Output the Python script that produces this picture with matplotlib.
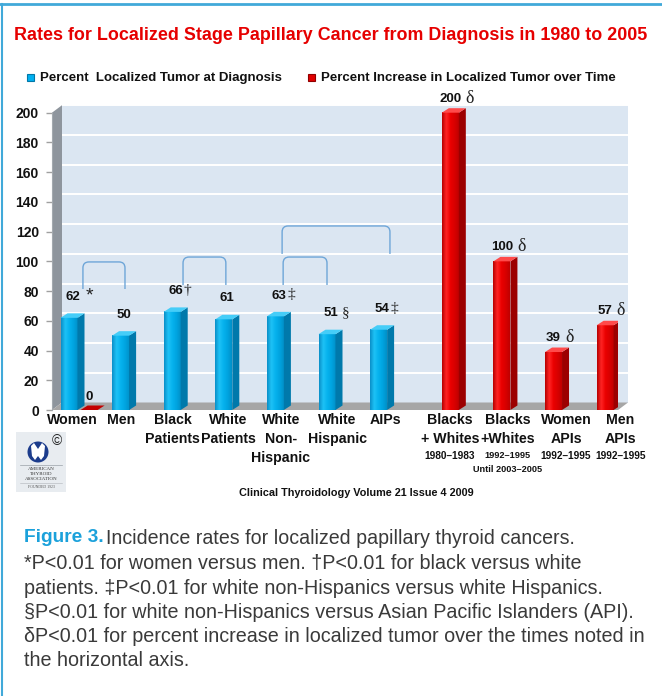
import numpy as np
import matplotlib
matplotlib.use("Agg")
import matplotlib.pyplot as plt
from matplotlib.patches import Polygon, Rectangle, PathPatch, Circle
from matplotlib.path import Path
from matplotlib.lines import Line2D
from matplotlib.colors import LinearSegmentedColormap
from matplotlib import font_manager as fm

# ---------------- data ----------------
title = "Rates for Localized Stage Papillary Cancer from Diagnosis in 1980 to 2005"
series_names = ["Percent  Localized Tumor at Diagnosis",
                "Percent Increase in Localized Tumor over Time"]
blue_categories = ["Women", "Men", "Black\nPatients", "White\nPatients",
                   "White\nNon-\nHispanic", "White\nHispanic", "AIPs"]
blue_values = [62, 50, 66, 61, 63, 51, 54]
blue_marks = ["*", "", "†", "", "‡", "§", "‡"]
women_red_value = [0]
red_categories = ["Blacks\n+ Whites", "Blacks\n+Whites", "Women\nAPIs", "Men\nAPIs"]
red_periods = ["1980–1983", "1992–1995", "1992–1995", "1992–1995"]
red_period_notes = ["", "Until 2003–2005", "", ""]
red_values = [200, 100, 39, 57]
red_marks = ["δ", "δ", "δ", "δ"]
yticks = [0, 20, 40, 60, 80, 100, 120, 140, 160, 180, 200]
comparisons = [(0, 1), (2, 3), (4, 5), (4, 6)]
footer = "Clinical Thyroidology Volume 21 Issue 4 2009"
caption_head = "Figure 3."
caption_first = "Incidence rates for localized papillary thyroid cancers."
caption_lines = [
    "*P<0.01 for women versus men. \u2020P<0.01 for black versus white",
    "patients. \u2021P<0.01 for white non-Hispanics versus white Hispanics.",
    "\u00a7P<0.01 for white non-Hispanics versus Asian Pacific Islanders (API).",
    "\u03b4P<0.01 for percent increase in localized tumor over the times noted in",
    "the horizontal axis.",
]

# ---------------- fonts ----------------
def pick(*names):
    for n in names:
        try:
            fm.findfont(fm.FontProperties(family=n), fallback_to_default=False)
            return n
        except Exception:
            pass
    return "DejaVu Sans"

NARROW = pick("Liberation Sans Narrow", "Liberation Sans")
SANS = pick("Liberation Sans", "DejaVu Sans")
SERIF = pick("Liberation Serif", "DejaVu Serif")

# ---------------- layout ----------------
W, H = 662, 696
fig = plt.figure(figsize=(W / 100, H / 100), dpi=100)
fig.patch.set_facecolor("white")

def fx(px):
    return px / W

def fy(py):
    return 1 - py / H

AX_L, AX_R, AX_T, AX_B = 52, 618, 105, 410
PXX, X0PX, PXY = 51.6, 69.0, 1.4865
ux, uy = 1 / PXX, 1 / PXY
xlim = ((AX_L - X0PX) / PXX, (AX_R - X0PX) / PXX)
ylim = (0, (AX_B - AX_T) / PXY)
WALL_DX, WALL_DY = 10 * ux, 7.5 * uy
BAR_DX, BAR_DY = 7 * ux, 4.5 * uy
BAR_W = 17 * ux
RED_SHIFT = 0.39
LABEL_SHIFT_PX = [3, 0.5, 0.5, 4.5, 5.5, 10.5, 6.5, -0.5, 5.5, 12.5, 15.5]
BRACKETS = [  # (left offset, right offset, bottom, top)
    (0.27, 0.085, 81.4, 99.6),
    (0.21, 0.04, 84.1, 102.9),
    (0.15, 0.0, 84.1, 102.9),
    (0.13, 0.22, 105.0, 123.8),
]
BRACKET_COLOR = "#6ea6d8"

# figure frame
fig.add_artist(Line2D([0, 1], [fy(4), fy(4)], color="#41a9d9", lw=2))
fig.add_artist(Line2D([fx(2), fx(2)], [fy(4), 0], color="#41a9d9", lw=1.5))

# title
fig.text(fx(331), fy(35), title, ha="center", va="center", color="#e60000",
         fontsize=12.9, fontweight="bold", family=NARROW)

# legend
for (sx, tx, col, edge, name) in [(27, 40, "#00b0f0", "#0078a8", series_names[0]),
                                   (308, 321, "#e00000", "#900000", series_names[1])]:
    fig.add_artist(Rectangle((fx(sx), fy(81)), 7 / W, 7 / H, facecolor=col,
                             edgecolor=edge, lw=0.8))
    fig.text(fx(tx), fy(78), name, ha="left", va="center", fontsize=9.5,
             fontweight="bold", family=NARROW, color="#111111")

# axes
ax = fig.add_axes([fx(AX_L), fy(AX_B), (AX_R - AX_L) / W, (AX_B - AX_T) / H])
ax.set_facecolor("none")
for s in ["top", "right", "bottom"]:
    ax.spines[s].set_visible(False)
ax.spines["left"].set_color("#a3a9af")
ax.spines["left"].set_bounds(0, 200)
ax.set_yticks(yticks)
ax.set_yticklabels([str(v) for v in yticks], fontweight="bold", fontsize=10,
                   family=SANS, color="#111111")
ax.tick_params(axis="y", length=4, width=1, color="#a0a0a0", pad=5.5)
ax.set_xticks([])

x0, x1 = xlim
# back wall
ax.add_patch(Polygon([(x0 + WALL_DX, WALL_DY), (x1 + WALL_DX, WALL_DY),
                      (x1 + WALL_DX, 200 + WALL_DY), (x0 + WALL_DX, 200 + WALL_DY)],
                     closed=True, facecolor="#dbe6f2", edgecolor="none",
                     zorder=0.2, clip_on=False))
for v in yticks[1:]:
    ax.plot([x0 + WALL_DX, x1 + WALL_DX], [v + WALL_DY, v + WALL_DY], color="white",
            lw=1.4, zorder=0.3, clip_on=False)
# left wall
ax.add_patch(Polygon([(x0, 0), (x0, 200), (x0 + WALL_DX, 200 + WALL_DY),
                      (x0 + WALL_DX, WALL_DY)], closed=True, facecolor="#8e959d",
                     edgecolor="none", zorder=0.4, clip_on=False))
# floor
ax.add_patch(Polygon([(x0, 0), (x1, 0), (x1 + WALL_DX, WALL_DY), (x0 + WALL_DX, WALL_DY)],
                     closed=True, facecolor="#a6a6a6", edgecolor="none",
                     zorder=0.5, clip_on=False))

# bars
blue_pos = np.arange(len(blue_values))
red_pos = np.arange(len(blue_values), len(blue_values) + len(red_values)) + RED_SHIFT
bars_blue = ax.bar(blue_pos, blue_values, width=BAR_W, color="#00b0f0", lw=0, zorder=3)
bars_zero = ax.bar(blue_pos[:1] + RED_SHIFT, women_red_value, width=BAR_W,
                   color="#e00000", lw=0, zorder=3)
bars_red = ax.bar(red_pos, red_values, width=BAR_W, color="#e00000", lw=0, zorder=3)

blue_cmap = LinearSegmentedColormap.from_list(
    "bl", ["#0a8fc8", "#1ec2f6", "#06b2ee", "#00a4e0", "#0090c8"])
red_cmap = LinearSegmentedColormap.from_list(
    "rd", ["#b80000", "#ff2424", "#ea0000", "#d80000", "#c00000"])
grad = np.linspace(0, 1, 64)[None, :]

def decorate(bars, cmap, side, top):
    for p in bars:
        x, w, h = p.get_x(), p.get_width(), p.get_height()
        if h > 0:
            ax.imshow(grad, cmap=cmap, extent=[x, x + w, 0, h], aspect="auto",
                      interpolation="bilinear", zorder=3.1)
            ax.add_patch(Polygon([(x + w, 0), (x + w, h), (x + w + BAR_DX, h + BAR_DY),
                                  (x + w + BAR_DX, BAR_DY)], closed=True,
                                 facecolor=side, edgecolor="none", zorder=3.1))
        ax.add_patch(Polygon([(x, h), (x + w, h), (x + w + BAR_DX, h + BAR_DY),
                              (x + BAR_DX, h + BAR_DY)], closed=True,
                             facecolor=top, edgecolor="none", zorder=3.2))

decorate(bars_blue, blue_cmap, "#0079ab", "#45cdf8")
decorate(bars_red, red_cmap, "#9c0000", "#ff4a4a")
decorate(bars_zero, red_cmap, "#9c0000", "#c40000")

# value labels
gaps = {"*": 4, "\u2020": 0.5, "\u2021": 0.5, "\u00a7": 3, "\u03b4": 3}
sym_size = {"*": 14, "\u2020": 11, "\u2021": 11, "\u00a7": 11, "\u03b4": 13}
sym_family = {"*": SANS, "\u2020": SERIF, "\u2021": SERIF, "\u00a7": SERIF, "\u03b4": SERIF}

def value_labels(bars, values, marks, dx, dy):
    for p, v, m in zip(bars, values, marks):
        t = ax.annotate(str(v), xy=(p.get_x() + p.get_width() / 2, v),
                        xytext=(dx, dy), textcoords="offset points", ha="center",
                        va="center", fontsize=9.5, fontweight="bold", family=NARROW,
                        color="#111111", zorder=5, annotation_clip=False)
        if m:
            ax.annotate(m, xy=(1, 0.5), xycoords=t, xytext=(gaps[m], 0.5),
                        textcoords="offset points", ha="left", va="center",
                        fontsize=sym_size[m], family=sym_family[m],
                        color="#222222", zorder=5, annotation_clip=False)

value_labels(bars_blue, blue_values, blue_marks, 2.5, 15)
value_labels(bars_red, red_values, red_marks, 0, 10)
value_labels(bars_zero, women_red_value, [""], 0, 9.5)

# significance brackets
for (i, j), (lo, ro, yb, yt) in zip(comparisons, BRACKETS):
    xl, xr = i + lo, j + ro
    rx, ry = 6 * ux, 6 * uy
    verts = [(xl, yb), (xl, yt - ry), (xl, yt), (xl + rx, yt), (xr - rx, yt),
             (xr, yt), (xr, yt - ry), (xr, yb)]
    codes = [Path.MOVETO, Path.LINETO, Path.CURVE3, Path.CURVE3, Path.LINETO,
             Path.CURVE3, Path.CURVE3, Path.LINETO]
    ax.add_patch(PathPatch(Path(verts, codes), facecolor="none",
                           edgecolor=BRACKET_COLOR, lw=1.0, zorder=4, clip_on=False))

# category labels
all_pos = list(blue_pos) + list(red_pos)
all_cats = blue_categories + red_categories
for k, (pos, cat) in enumerate(zip(all_pos, all_cats)):
    ax.annotate(cat, xy=(pos + LABEL_SHIFT_PX[k] * ux, 0), xytext=(0, -2.5),
                textcoords="offset points", ha="center", va="top",
                multialignment="center", linespacing=1.42, fontsize=10.2,
                fontweight="bold", family=NARROW, color="#111111",
                annotation_clip=False)
for k, (pos, per, note) in enumerate(zip(red_pos, red_periods, red_period_notes)):
    kk = len(blue_pos) + k
    size = 6.6 if note else 7.3
    ax.annotate(per, xy=(pos + LABEL_SHIFT_PX[kk] * ux, 0), xytext=(0, -33),
                textcoords="offset points", ha="center", va="center",
                fontsize=size, fontweight="bold", family=NARROW, color="#111111",
                annotation_clip=False)
    if note:
        ax.annotate(note, xy=(pos + LABEL_SHIFT_PX[kk] * ux, 0), xytext=(0, -42.5),
                    textcoords="offset points", ha="center", va="center",
                    fontsize=6.6, fontweight="bold", family=NARROW, color="#111111",
                    annotation_clip=False)

ax.set_xlim(xlim)
ax.set_ylim(ylim)

# logo
lax = fig.add_axes([fx(16), fy(492), 50 / W, 60 / H])
lax.set_xlim(0, 50)
lax.set_ylim(60, 0)
lax.axis("off")
lax.add_patch(Rectangle((0, 0), 50, 60, facecolor="#e8ecf0", edgecolor="none"))
lax.add_patch(Circle((22, 20), 10.5, facecolor="#1c3c8c", edgecolor="none"))
lax.add_patch(Polygon([(15, 14), (18, 11), (22, 17), (26, 11), (29, 14), (28, 24),
                       (25, 28), (22, 24), (19, 28), (16, 24)], closed=True,
                      facecolor="white", edgecolor="none"))
lax.text(41, 9, "\u00a9", fontsize=10, ha="center", va="center", color="#222222",
         family=SANS)
lax.plot([4, 46], [33, 33], color="#9aa0a8", lw=0.5)
for yy, txt in [(37, "AMERICAN"), (42, "THYROID"), (47, "ASSOCIATION")]:
    lax.text(25, yy, txt, fontsize=3.6, ha="center", va="center", family=SERIF,
             color="#333333")
lax.plot([4, 46], [51, 51], color="#b0b4ba", lw=0.4)
lax.text(25, 55, "FOUNDED 1923", fontsize=2.8, ha="center", va="center",
         family=SERIF, color="#555555")

# footer
fig.text(fx(356), fy(493), footer, ha="center", va="center", fontsize=7.8,
         fontweight="bold", family=SANS, color="#111111")

# caption
CAP_Y = [538, 563, 588, 612, 637, 661]
head = fig.text(fx(24), fy(CAP_Y[0]), caption_head, ha="left", va="center",
                fontsize=13.8, fontweight="bold", family=SANS, color="#1ba1db")
ax.annotate(caption_first, xy=(1, 0.5), xycoords=head, xytext=(1.5, 0),
            textcoords="offset points", ha="left", va="center", fontsize=14.1,
            family=NARROW, color="#3a3a3a", annotation_clip=False)
for yy, line in zip(CAP_Y[1:], caption_lines):
    fig.text(fx(24), fy(yy), line, ha="left", va="center", fontsize=14.2,
             family=NARROW, color="#3a3a3a")

fig.savefig("out.png", dpi=100, facecolor="white")
